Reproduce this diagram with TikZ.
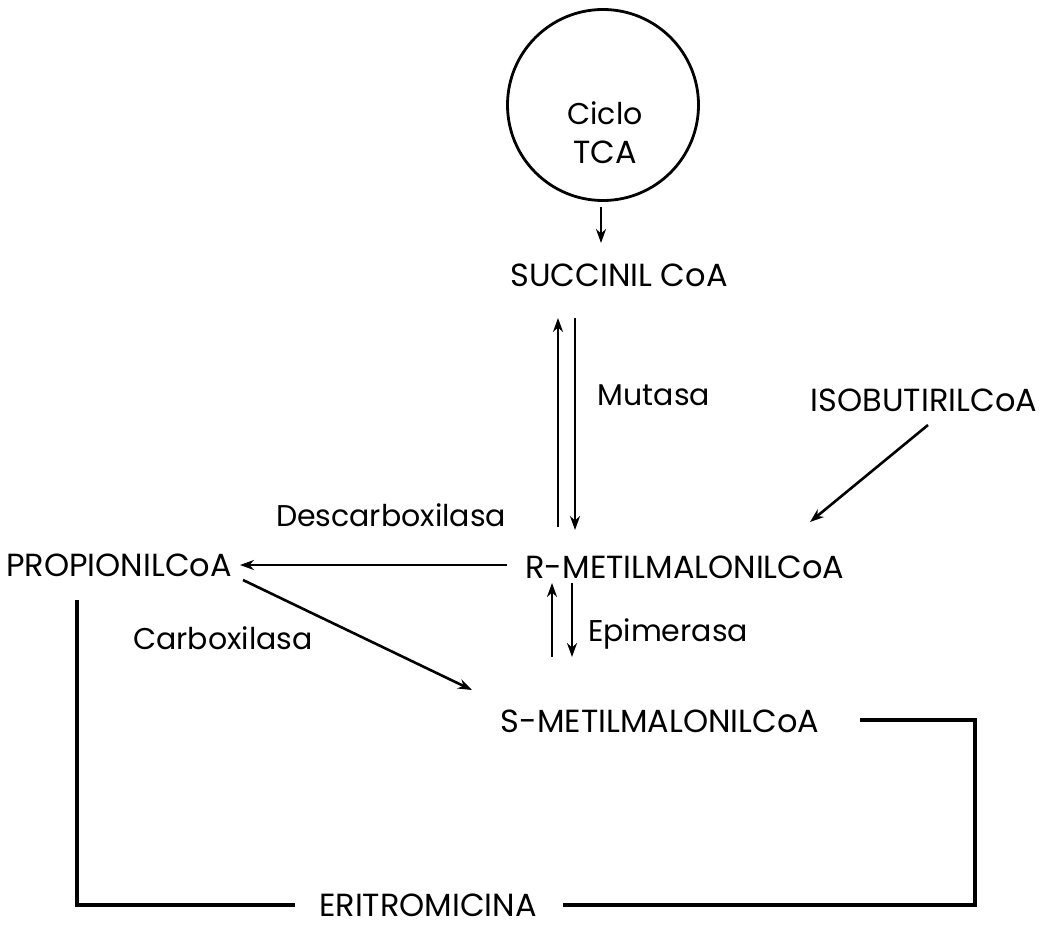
\documentclass[tikz,border=0pt]{standalone}
\usepackage{fontspec}
\setmainfont{Poppins}
\usetikzlibrary{arrows.meta}
\begin{document}
\begin{tikzpicture}[x=1pt,y=-1pt,
  lbl/.style={font=\fontsize{32}{36}\selectfont, inner sep=0pt, anchor=center},
  enz/.style={font=\fontsize{30}{34}\selectfont, inner sep=0pt, anchor=center},
  arr/.style={line width=2.6pt, -{Stealth[length=14pt,width=10pt]}},
  ln/.style={line width=3.6pt}]
\useasboundingbox[fill=white] (0,0) rectangle (1049,939);
\node[circle, draw, line width=2.8pt, minimum size=191pt, inner sep=0pt] (tca) at (603,105) {};
\node[enz] (ciclo) at (605,113) {Ciclo};
\node[lbl] (tcal) at (605,152) {TCA};
\node[lbl] (succ) at (619,275) {SUCCINIL CoA};
\node[lbl] (isob) at (924,400) {ISOBUTIRILCoA};
\node[lbl] (rmet) at (685,567) {R-METILMALONILCoA};
\node[lbl] (prop) at (119,565) {PROPIONILCoA};
\node[lbl] (smet) at (660,721) {S-METILMALONILCoA};
\node[lbl] (erit) at (428,905) {ERITROMICINA};
\node[enz] (mut) at (654,395) {Mutasa};
\node[enz] (desc) at (391,515) {Descarboxilasa};
\node[enz] (epi) at (668,634) {Epimerasa};
\node[enz] (carb) at (223,638) {Carboxilasa};
% coordinates
\coordinate (t1) at (601,207);
\coordinate (t2) at (601,243);
\coordinate (mu1) at (558,527);
\coordinate (mu2) at (558,318);
\coordinate (md1) at (575,318);
\coordinate (md2) at (575,530);
\coordinate (eu1) at (552,657);
\coordinate (eu2) at (552,583);
\coordinate (ed1) at (572,583);
\coordinate (ed2) at (572,657);
\coordinate (i1) at (928,425);
\coordinate (i2) at (810,522);
\coordinate (d1) at (507,565);
\coordinate (d2) at (240,565);
\coordinate (c1) at (243,580);
\coordinate (c2) at (472,690);
\coordinate (r1) at (860,720);
\coordinate (r2) at (975,720);
\coordinate (r3) at (975,905);
\coordinate (r4) at (563,905);
\coordinate (l1) at (295,905);
\coordinate (l2) at (77,905);
\coordinate (l3) at (77,600);
\draw[arr] (t1) -- (t2);
\draw[arr] (mu1) -- (mu2);
\draw[arr] (md1) -- (md2);
\draw[arr] (eu1) -- (eu2);
\draw[arr] (ed1) -- (ed2);
\draw[arr] (i1) -- (i2);
\draw[arr] (d1) -- (d2);
\draw[arr] (c1) -- (c2);
\draw[ln] (r1) -- (r2) -- (r3) -- (r4);
\draw[ln] (l1) -- (l2) -- (l3);
\end{tikzpicture}
\end{document}
